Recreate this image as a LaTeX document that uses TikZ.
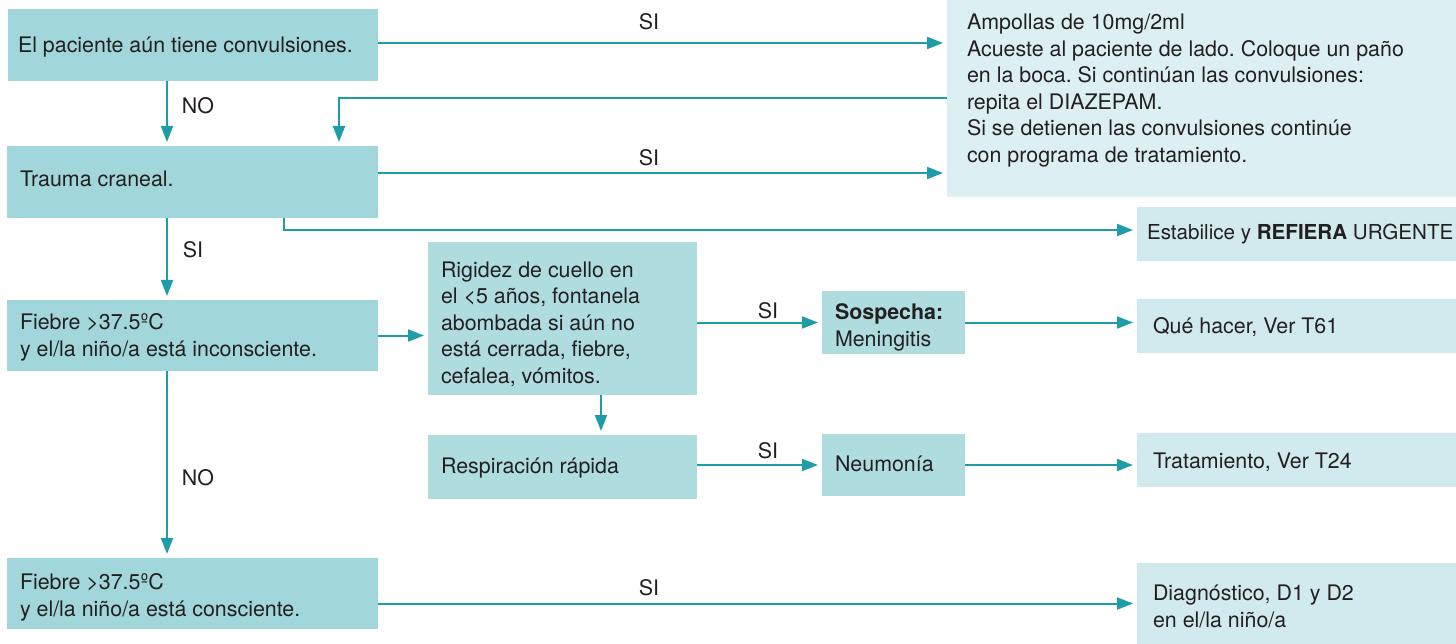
\documentclass[tikz,border=0pt]{standalone}
\usepackage{fontspec}
\setmainfont{TeX Gyre Heros}
\usetikzlibrary{arrows.meta}
\frenchspacing
\definecolor{boxL}{HTML}{A1D6DA}
\definecolor{boxM}{HTML}{AEDCDF}
\definecolor{boxR}{HTML}{D1EAED}
\definecolor{boxA}{HTML}{DCEFF3}
\definecolor{arr}{HTML}{1E9CA8}
\definecolor{ink}{HTML}{231F20}
\tikzset{
  box/.style={rectangle, inner sep=0pt, outer sep=0pt, anchor=north west, draw=none},
  txt/.style={anchor=base west, inner sep=0pt, outer sep=0pt, align=left, text=ink,
    font=\fontsize{21.4}{26.5}\selectfont},
  lbl/.style={inner sep=0pt, outer sep=0pt, text=ink, font=\fontsize{21.4}{26.5}\selectfont},
  conn/.style={draw=arr, line width=2pt},
  arrow/.style={conn, -{Triangle[length=16pt,width=12pt]}, shorten >=4pt},
}
\begin{document}
\begin{tikzpicture}[x=1pt,y=-1pt]
\frenchspacing
\useasboundingbox (0,0) rectangle (1456,644);
% boxes
\node[box, fill=boxL, minimum width=370pt, minimum height=72pt] (b1) at (8,9) {};
\node[box, fill=boxL, minimum width=371pt, minimum height=72pt] (b2) at (7,146) {};
\node[box, fill=boxL, minimum width=371pt, minimum height=71pt] (b3) at (7,300) {};
\node[box, fill=boxL, minimum width=371pt, minimum height=71pt] (b4) at (7,558) {};
\node[box, fill=boxA, minimum width=509pt, minimum height=197pt] (amp) at (947,0) {};
\node[box, fill=boxR, minimum width=319pt, minimum height=54pt] (est) at (1137,207) {};
\node[box, fill=boxM, minimum width=269pt, minimum height=153pt] (rig) at (428,242) {};
\node[box, fill=boxM, minimum width=269pt, minimum height=64pt] (resp) at (428,435) {};
\node[box, fill=boxM, minimum width=143pt, minimum height=63pt] (sosp) at (822,291) {};
\node[box, fill=boxM, minimum width=143pt, minimum height=62pt] (neum) at (822,434) {};
\node[box, fill=boxR, minimum width=319pt, minimum height=54pt] (que) at (1137,299) {};
\node[box, fill=boxR, minimum width=319pt, minimum height=54pt] (trat) at (1137,433) {};
\node[box, fill=boxR, minimum width=319pt, minimum height=81pt] (diag) at (1137,563) {};
% texts (base anchor = baseline of the last line)
\node[txt] (t1) at (18,53) {El paciente aún tiene convulsiones.};
\node[txt] (t2) at (20,187) {Trauma craneal.};
\node[txt] (t3) at (20,356) {Fiebre >37.5ºC\\y el/la niño/a está inconsciente.};
\node[txt] (t4) at (20,616) {Fiebre >37.5ºC\\y el/la niño/a está consciente.};
\node[txt] (tamp) at (967,162.5) {Ampollas de 10mg/2ml\\Acueste al paciente de lado. Coloque un paño\\en la boca. Si continúan las convulsiones:\\repita el DIAZEPAM.\\Si se detienen las convulsiones continúe\\con programa de tratamiento.};
\node[txt, font=\fontsize{20.6}{26.5}\selectfont] (test) at (1147,240) {Estabilice y \textbf{REFIERA} URGENTE};
\node[txt] (trig) at (441,383) {Rigidez de cuello en\\el <5 años, fontanela\\abombada si aún no\\está cerrada, fiebre,\\cefalea, vómitos.};
\node[txt] (tresp) at (441,473) {Respiración rápida};
\node[txt] (tsosp) at (835,346) {\textbf{Sospecha:}\\Meningitis};
\node[txt] (tneum) at (835,471) {Neumonía};
\node[txt] (tque) at (1153,333) {Qué hacer, Ver T61};
\node[txt] (ttrat) at (1153,468) {Tratamiento, Ver T24};
\node[txt] (tdiag) at (1153,627) {Diagnóstico, D1 y D2\\en el/la niño/a};
% helper coordinates
\coordinate (y43) at (0,43);
\coordinate (y173) at (0,173);
\coordinate (c98) at (339,98);
\coordinate (x167) at (167,0);
\coordinate (c230) at (284,230);
\coordinate (x601) at (601,0);
% connectors
\draw[arrow] (b1.east |- y43) -- (amp.west |- y43);
\draw[arrow] (b2.east |- y173) -- (amp.west |- y173);
\draw[arrow] (amp.west |- c98) -- (c98) -- (b2.north -| c98);
\draw[arrow] (b1.south -| x167) -- (b2.north -| x167);
\draw[arrow] (b2.south -| c230) -- (c230) -- (est.west |- c230);
\draw[arrow] (b2.south -| x167) -- (b3.north -| x167);
\draw[arrow] (b3.east) -- (rig.west |- b3.east);
\draw[arrow] (rig.east |- sosp.west) -- (sosp.west);
\draw[arrow] (sosp.east) -- (que.west |- sosp.east);
\draw[arrow] (rig.south -| x601) -- (resp.north -| x601);
\draw[arrow] (resp.east |- neum.west) -- (neum.west);
\draw[arrow] (neum.east) -- (trat.west |- neum.east);
\draw[arrow] (b3.south -| x167) -- (b4.north -| x167);
\draw[arrow] (b4.east |- diag.west) -- (diag.west);
% labels
\node[lbl] (l1) at (649,22) {SI};
\node[lbl] (l2) at (649,158) {SI};
\node[lbl] (l3) at (198,106) {NO};
\node[lbl] (l4) at (193,250) {SI};
\node[lbl] (l5) at (768,311) {SI};
\node[lbl] (l6) at (768,451) {SI};
\node[lbl] (l7) at (198,478) {NO};
\node[lbl] (l8) at (649,588) {SI};
\end{tikzpicture}
\end{document}
